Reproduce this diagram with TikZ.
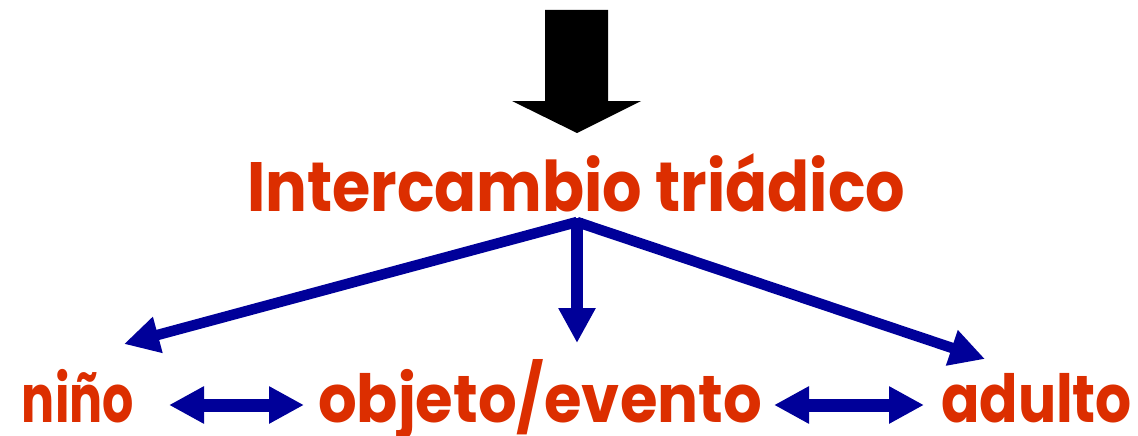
\documentclass[tikz,border=0pt]{standalone}
\usepackage{graphicx}
\usepackage{fontspec}
\usetikzlibrary{arrows.meta}
\newfontfamily\cfont{Poppins}
\definecolor{tred}{HTML}{DC2E00}
\definecolor{tblue}{HTML}{000099}
\newcommand\fittext[4]{\resizebox{#1}{#2}{\smash{#4}\vphantom{#3}}}
\tikzset{
  txt/.style={inner sep=0pt, outer sep=0pt, anchor=base west, text=tred, font=\cfont\bfseries},
  bluearrow/.style={draw=tblue, line width=10.5pt, -{Triangle[length=35pt,width=35pt]}},
  vertarrow/.style={draw=tblue, line width=12pt, -{Triangle[length=35pt,width=35pt]}},
  dblarrow/.style={draw=tblue, line width=13pt, {Triangle[length=35pt,width=35pt]}-{Triangle[length=35pt,width=35pt]}},
}
\begin{document}
\begin{tikzpicture}[x=1pt,y={(0pt,-1pt)}]
\useasboundingbox (0,0) rectangle (1138,436);
\fill[white] (0,0) rectangle (1138,436);
% block arrow
\fill[black] (545,10) -- (608,10) -- (608,101) -- (641,101) -- (577,133) -- (512,101) -- (545,101) -- cycle;
% texts
\node[txt] (title) at (247,211) {\fittext{658pt}{49pt}{I}{Intercambio triádico}};
\node[txt] (nino) at (22,422) {\fittext{112pt}{37pt}{x}{niño}};
\node[txt] (obj) at (318,422) {\fittext{444pt}{37pt}{x}{objeto/evento}};
\node[txt] (adulto) at (941,422) {\fittext{191pt}{37pt}{x}{adulto}};
% connector points
\coordinate (apex) at (577,222);
\coordinate (tipL) at (124,344);
\coordinate (tipM) at (577,343);
\coordinate (tipR) at (985,359);
\coordinate (d1a) at (169,405);
\coordinate (d1b) at (304,405);
\coordinate (d2a) at (774,405);
\coordinate (d2b) at (924,405);
% arrows
\draw[bluearrow] (apex) -- (tipL);
\draw[bluearrow] (apex) -- (tipR);
\draw[vertarrow, shorten <=-4pt] (apex) -- (tipM);
\draw[dblarrow] (d1a) -- (d1b);
\draw[dblarrow] (d2a) -- (d2b);
\end{tikzpicture}
\end{document}
